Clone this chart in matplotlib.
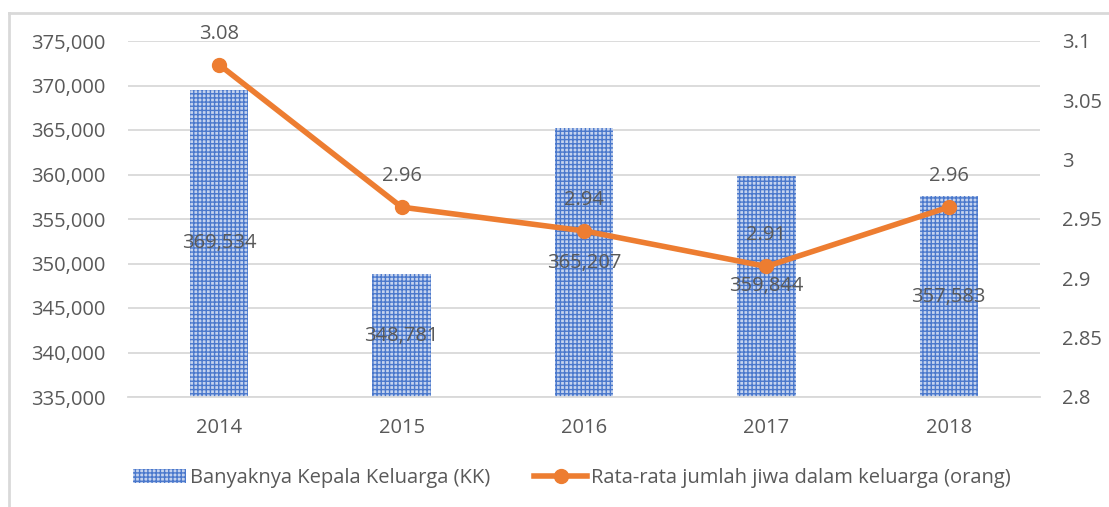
import matplotlib
matplotlib.use("Agg")
import matplotlib.pyplot as plt
from matplotlib.lines import Line2D
from matplotlib.ticker import FuncFormatter, MultipleLocator

years = ["2014", "2015", "2016", "2017", "2018"]
kk = [369534, 348781, 365207, 359844, 357583]
avg = [3.08, 2.96, 2.94, 2.91, 2.96]
kk_label = "Banyaknya Kepala Keluarga (KK)"
avg_label = "Rata-rata jumlah jiwa dalam keluarga (orang)"

plt.rcParams['font.family'] = ['Open Sans', 'DejaVu Sans']
txt = '#595959'
fs = 14.5
W, H = 1109, 507
fig = plt.figure(figsize=(W/100, H/100), dpi=100)

# outer chart border (left/top visible)
fig.add_artist(Line2D([9/W, 9/W], [0, 1-13/H], color='#d9d9d9', lw=2))
fig.add_artist(Line2D([9/W, 1], [1-13/H, 1-13/H], color='#d9d9d9', lw=2))

ax = fig.add_axes([128/W, 1-397/H, (1040-128)/W, (397-41)/H])
x = list(range(len(years)))
bars = ax.bar(x, kk, width=0.32, color='#c5d3ee', edgecolor='#4a78cc',
              hatch='++++', linewidth=0, label=kk_label, zorder=2)
ax.set_ylim(335000, 375000)
ax.set_xlim(-0.5, len(years)-0.5)
ax.yaxis.set_major_locator(MultipleLocator(5000))
ax.yaxis.set_major_formatter(FuncFormatter(lambda v, p: f"{int(v):,}"))
ax.grid(axis='y', color='#d9d9d9', lw=1.3, zorder=0)
ax.set_axisbelow(True)
for s in ['top', 'right', 'left']:
    ax.spines[s].set_visible(False)
ax.spines['bottom'].set_color('#d9d9d9')
ax.spines['bottom'].set_linewidth(1.3)
ax.set_xticks(x)
ax.set_xticklabels(years)
ax.tick_params(axis='both', length=0, labelsize=fs, colors=txt)
ax.tick_params(axis='x', pad=15)
ax.tick_params(axis='y', pad=16)
for xi, v in zip(x, kk):
    ax.text(xi, (335000 + v)/2, f"{v:,}", ha='center', va='center',
            fontsize=fs, color=txt, zorder=5)

ax2 = ax.twinx()
ax2.plot(x, avg, color='#ed7d31', lw=4, marker='o', ms=10,
         label=avg_label, zorder=3)
ax2.set_ylim(2.8, 3.1)
ax2.yaxis.set_major_locator(MultipleLocator(0.05))
ax2.yaxis.set_major_formatter(FuncFormatter(lambda v, p: f"{round(v, 2):g}"))
for s in ['top', 'right', 'left', 'bottom']:
    ax2.spines[s].set_visible(False)
ax2.tick_params(axis='y', length=0, labelsize=fs, colors=txt, pad=16)
for xi, v in zip(x, avg):
    ax2.annotate(f"{v:.2f}", (xi, v), xytext=(0, 31), textcoords='offset pixels',
                 ha='center', va='center', fontsize=fs, color=txt)

h1, l1 = ax.get_legend_handles_labels()
h2, l2 = ax2.get_legend_handles_labels()
fig.legend(h1 + h2, l1 + l2, loc='center', bbox_to_anchor=(572/W, 1-478/H),
           ncol=2, frameon=False, fontsize=fs, labelcolor=txt,
           handlelength=2.6, columnspacing=2.2, handletextpad=0.2)

fig.savefig("out.png", dpi=100)
